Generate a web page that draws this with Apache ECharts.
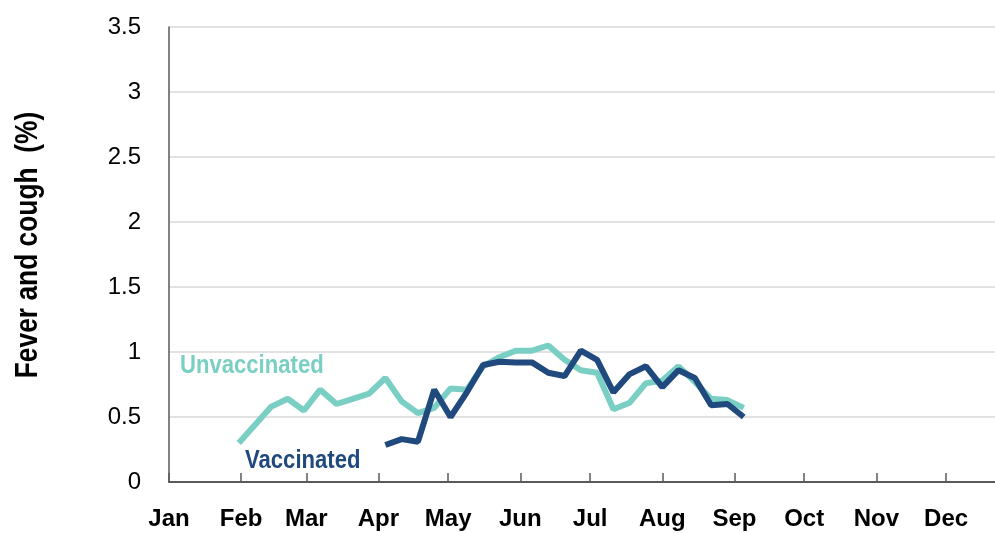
<!DOCTYPE html>
<html>
<head>
<meta charset="utf-8">
<script src="https://cdn.jsdelivr.net/npm/echarts@6/dist/echarts.min.js"></script>
<style>
  html, body { margin: 0; padding: 0; background: #fff; }
  #chart { width: 995px; height: 533px; }
</style>
</head>
<body>
<div id="chart"></div>
<script>
// day of year (0 = 1 Jan) for the start of each month, and their labels
var monthStarts = [0, 31, 59, 90, 120, 151, 181, 212, 243, 273, 304, 334];
var monthNames = ['Jan', 'Feb', 'Mar', 'Apr', 'May', 'Jun', 'Jul', 'Aug', 'Sep', 'Oct', 'Nov', 'Dec'];

// weekly survey points (day of year)
var weekDays = [30, 37, 44, 51, 58, 65, 72, 79, 86, 93, 100, 107, 114, 121, 128, 135,
                142, 149, 156, 163, 170, 177, 184, 191, 198, 205, 212, 219, 226, 233, 240, 247];

// fever and cough (%)
var unvaccinated = [0.30, 0.44, 0.58, 0.64, 0.55, 0.71, 0.60, 0.64, 0.68, 0.80, 0.62, 0.53, 0.57, 0.72, 0.71, 0.89,
                    0.96, 1.01, 1.01, 1.05, 0.94, 0.86, 0.84, 0.56, 0.61, 0.76, 0.78, 0.89, 0.77, 0.64, 0.63, 0.57];
var vaccinated = [null, null, null, null, null, null, null, null, null, 0.285, 0.33, 0.31, 0.71, 0.50, 0.69, 0.90,
                  0.925, 0.92, 0.92, 0.84, 0.815, 1.01, 0.94, 0.69, 0.83, 0.89, 0.73, 0.86, 0.80, 0.59, 0.60, 0.50];

var yTicks = [0, 0.5, 1, 1.5, 2, 2.5, 3, 3.5];

function pairs(xs, ys) {
    var out = [];
    for (var i = 0; i < xs.length; i++) {
        if (ys[i] != null) out.push([xs[i], ys[i]]);
    }
    return out;
}

var sans = '"Liberation Sans", Arial, sans-serif';

var chart = echarts.init(document.getElementById('chart'));
var option = {
    animation: false,
    grid: { left: 169, right: 0, top: 27, bottom: 51 },
    xAxis: {
        type: 'value',
        min: 0,
        max: 355,
        axisLine: { show: true, lineStyle: { color: '#595959', width: 2 } },
        axisTick: {
            show: true,
            inside: true,
            length: 9,
            customValues: monthStarts,
            lineStyle: { color: '#595959', width: 1.5 }
        },
        axisLabel: {
            customValues: monthStarts,
            margin: 25,
            fontFamily: sans,
            fontWeight: 'bold',
            fontSize: 24,
            color: '#000',
            formatter: function (v) {
                return monthNames[monthStarts.indexOf(v)];
            }
        },
        splitLine: { show: false }
    },
    yAxis: {
        type: 'value',
        min: yTicks[0],
        max: yTicks[yTicks.length - 1],
        interval: 0.5,
        axisLine: { show: true, lineStyle: { color: '#595959', width: 1.5 } },
        axisTick: { show: false },
        axisLabel: {
            margin: 28,
            fontFamily: sans,
            fontSize: 24,
            color: '#000'
        },
        splitLine: { show: true, lineStyle: { color: '#D9D9D9', width: 1.5 } }
    },
    graphic: [
        {
            type: 'text',
            x: 28, y: 245,
            rotation: Math.PI / 2,
            scaleX: 0.85,
            style: {
                text: 'Fever and cough  (%)',
                fontFamily: sans,
                fontWeight: 'bold',
                fontSize: 31,
                fill: '#000',
                align: 'center',
                verticalAlign: 'middle'
            }
        },
        {
            type: 'text',
            x: 180, y: 366,
            scaleX: 0.85,
            style: {
                text: 'Unvaccinated',
                fontFamily: sans,
                fontWeight: 'bold',
                fontSize: 26,
                fill: '#7ACFC4',
                verticalAlign: 'middle'
            }
        },
        {
            type: 'text',
            x: 245, y: 461,
            scaleX: 0.85,
            style: {
                text: 'Vaccinated',
                fontFamily: sans,
                fontWeight: 'bold',
                fontSize: 26,
                fill: '#204A7E',
                verticalAlign: 'middle'
            }
        }
    ],
    series: [
        {
            name: 'Unvaccinated',
            type: 'line',
            data: pairs(weekDays, unvaccinated),
            symbol: 'none',
            lineStyle: { color: '#7ACFC4', width: 6 },
            z: 2
        },
        {
            name: 'Vaccinated',
            type: 'line',
            data: pairs(weekDays, vaccinated),
            symbol: 'none',
            lineStyle: { color: '#204A7E', width: 6 },
            z: 3
        }
    ]
};
chart.setOption(option);
</script>
</body>
</html>
